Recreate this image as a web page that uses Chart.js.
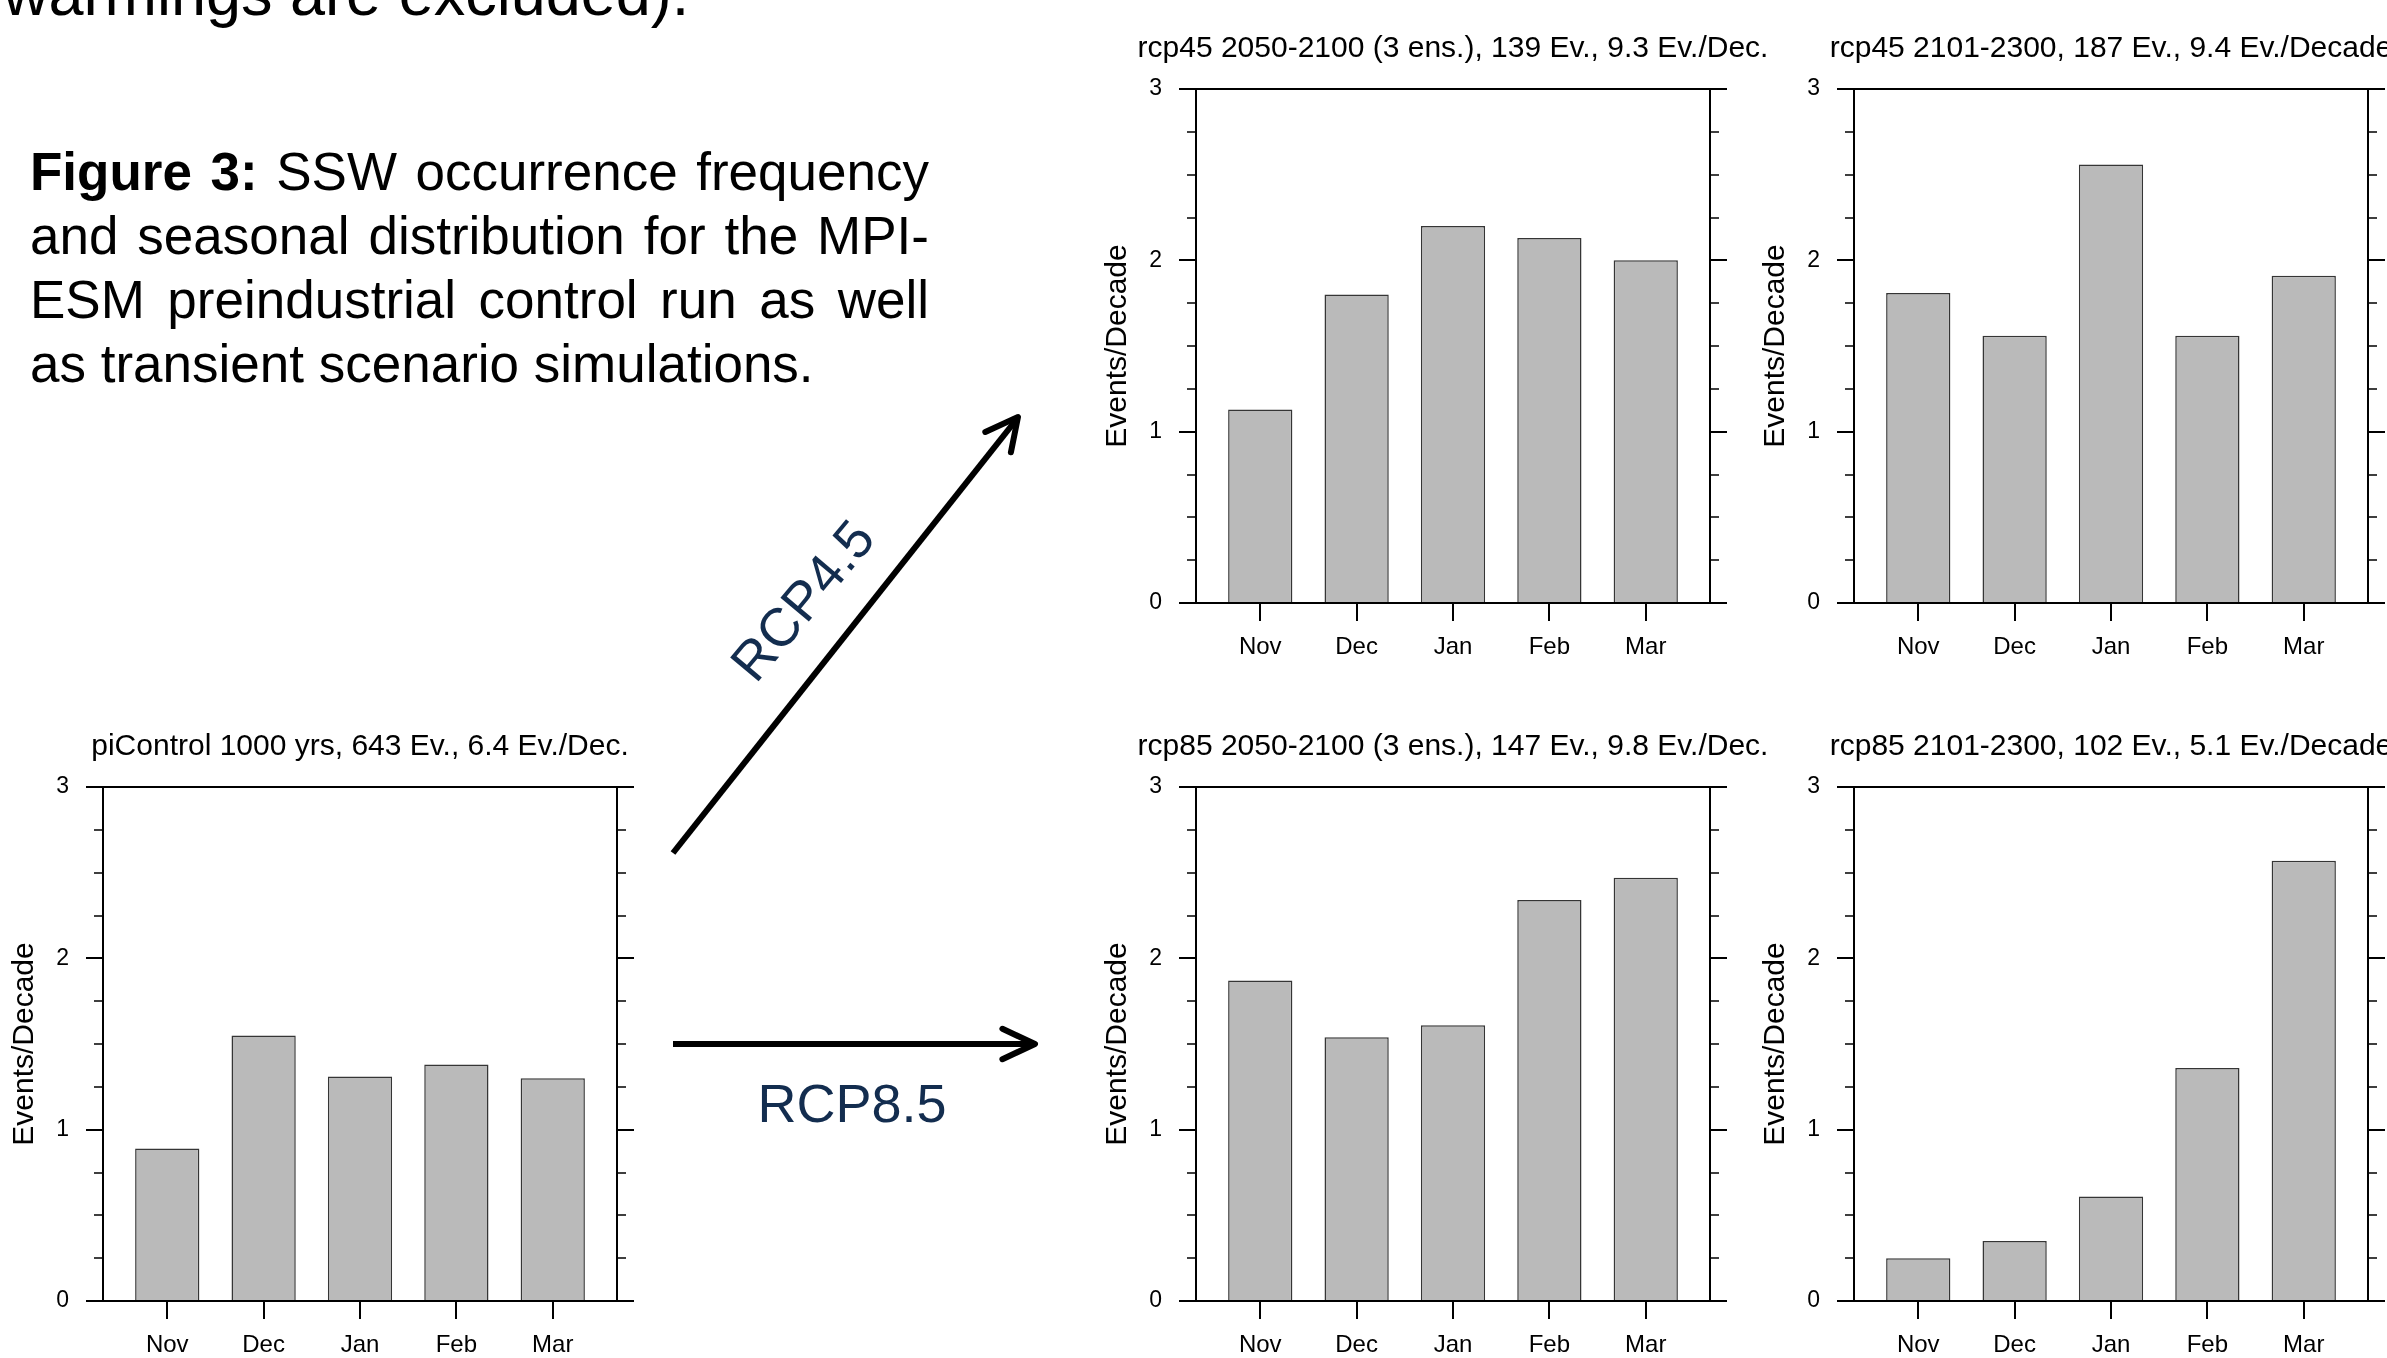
<!DOCTYPE html>
<html>
<head>
<meta charset="utf-8">
<title>SSW occurrence frequency</title>
<script src="https://cdn.jsdelivr.net/npm/chart.js@4.4.1/dist/chart.umd.min.js"></script>
<style>
  html, body { margin: 0; padding: 0; background: #fff; width: 2387px; height: 1358px; overflow: hidden; }
  body { position: relative; font-family: "Liberation Sans", Arial, Helvetica, sans-serif; color: #000; }
  canvas.panel { position: absolute; }
  #p0 { left: 7px;    top: 717px; }
  #p1 { left: 1100px; top: 19px; }
  #p2 { left: 1758px; top: 19px; }
  #p3 { left: 1100px; top: 717px; }
  #p4 { left: 1758px; top: 717px; }
  #caption { position: absolute; left: 30px; top: 140px; width: 899px; font-size: 53px; line-height: 64px; }
  #caption .j { text-align: justify; text-align-last: justify; }
  #overlay { position: absolute; left: 0; top: 0; pointer-events: none; }
</style>
</head>
<body>

<svg id="overlay" width="2387" height="1358" xmlns="http://www.w3.org/2000/svg"
     font-family="Liberation Sans, Arial, Helvetica, sans-serif">
  <text x="3" y="15" font-size="63" fill="#000">warmings are excluded).</text>

  <!-- RCP4.5 arrow -->
  <line x1="673" y1="853" x2="1016" y2="420" stroke="#000" stroke-width="6"/>
  <polyline points="985.3,432 1018,417 1010.9,452.3" fill="none" stroke="#000" stroke-width="6"
            stroke-linecap="round" stroke-linejoin="round"/>
  <text x="802" y="600" font-size="54" fill="#132d4f" text-anchor="middle" dominant-baseline="central"
        transform="rotate(-50 802 600)">RCP4.5</text>

  <!-- RCP8.5 arrow -->
  <line x1="673" y1="1044" x2="1032" y2="1044" stroke="#000" stroke-width="6"/>
  <polyline points="1002.4,1028.8 1035,1044 1002.4,1059.2" fill="none" stroke="#000" stroke-width="6"
            stroke-linecap="round" stroke-linejoin="round"/>
  <text x="852" y="1122" font-size="54" fill="#132d4f" text-anchor="middle">RCP8.5</text>
</svg>

<div id="caption">
  <div class="j"><b>Figure 3:</b> SSW occurrence frequency</div>
  <div class="j">and seasonal distribution for the MPI-</div>
  <div class="j">ESM preindustrial control run as well</div>
  <div>as transient scenario simulations.</div>
</div>

<canvas id="p0" class="panel" width="670" height="654"></canvas>
<canvas id="p1" class="panel" width="670" height="654"></canvas>
<canvas id="p2" class="panel" width="670" height="654"></canvas>
<canvas id="p3" class="panel" width="670" height="654"></canvas>
<canvas id="p4" class="panel" width="670" height="654"></canvas>

<script>
// months on the x axis, events per decade on the y axis
const months = ['Nov', 'Dec', 'Jan', 'Feb', 'Mar'];
const yTicks = [0, 1, 2, 3];

const piControl = [0.89, 1.55, 1.31, 1.38, 1.30];
const rcp45Mid  = [1.13, 1.80, 2.20, 2.13, 2.00];
const rcp45Late = [1.81, 1.56, 2.56, 1.56, 1.91];
const rcp85Mid  = [1.87, 1.54, 1.61, 2.34, 2.47];
const rcp85Late = [0.25, 0.35, 0.61, 1.36, 2.57];

const titles = [
    'piControl 1000 yrs, 643 Ev., 6.4 Ev./Dec.',
    'rcp45 2050-2100 (3 ens.), 139 Ev., 9.3 Ev./Dec.',
    'rcp45 2101-2300, 187 Ev., 9.4 Ev./Decade',
    'rcp85 2050-2100 (3 ens.), 147 Ev., 9.8 Ev./Dec.',
    'rcp85 2101-2300, 102 Ev., 5.1 Ev./Decade'
];

const FONT = '"Liberation Sans", Arial, Helvetica, sans-serif';
Chart.defaults.font.family = FONT;
Chart.defaults.color = '#000';

// NCL style box: frame, outward ticks on left/right/bottom, title above
const ncarFrame = {
    id: 'ncarFrame',
    afterDraw(chart, args, opts) {
        const { ctx, chartArea: a, scales: { x, y } } = chart;
        ctx.save();
        ctx.strokeStyle = '#000';

        // minor ticks every quarter
        ctx.lineWidth = 1.5;
        ctx.beginPath();
        for (let v = 0.25; v < 3; v += 0.25) {
            if (Number.isInteger(v)) continue;
            const py = Math.round(y.getPixelForValue(v));
            ctx.moveTo(a.left - 9, py); ctx.lineTo(a.left, py);
            ctx.moveTo(a.right, py); ctx.lineTo(a.right + 9, py);
        }
        ctx.stroke();

        // major ticks
        ctx.lineWidth = 2;
        ctx.beginPath();
        yTicks.forEach(v => {
            const py = Math.round(y.getPixelForValue(v));
            ctx.moveTo(a.left - 17, py); ctx.lineTo(a.left, py);
            ctx.moveTo(a.right, py); ctx.lineTo(a.right + 17, py);
        });
        x.ticks.forEach(t => {
            const px = Math.round(x.getPixelForValue(t.value));
            ctx.moveTo(px, a.bottom); ctx.lineTo(px, a.bottom + 18);
        });
        ctx.stroke();

        ctx.lineWidth = 2;
        ctx.strokeRect(a.left, a.top, a.width, a.height);

        ctx.fillStyle = '#000';
        ctx.font = '30px ' + FONT;
        ctx.textAlign = 'center';
        ctx.textBaseline = 'alphabetic';
        ctx.fillText(opts.text, (a.left + a.right) / 2, a.top - 32);
        ctx.restore();
    }
};

function makePanel(id, title, values) {
    const ctx = document.getElementById(id);
    return new Chart(ctx, {
        type: 'bar',
        data: {
            datasets: [{
                label: title,
                data: months.map((m, i) => ({ x: i + 1, y: values[i] })),
                backgroundColor: '#bababa',
                borderColor: '#353535',
                borderWidth: 1.5,
                categoryPercentage: 1,
                barPercentage: 2 / 3
            }]
        },
        options: {
            responsive: false,
            animation: false,
            events: [],
            devicePixelRatio: 1,
            layout: { padding: { top: 70, right: 60, bottom: 0, left: 0 } },
            scales: {
                x: {
                    type: 'linear',
                    min: 1 / 3,
                    max: 5 + 2 / 3,
                    offset: false,
                    grid: { display: false, drawTicks: false, offset: false },
                    border: { display: false },
                    afterBuildTicks: (scale) => {
                        scale.ticks = months.map((m, i) => ({ value: i + 1 }));
                    },
                    afterFit: (scale) => { scale.height = 70; },
                    ticks: {
                        padding: 30,
                        maxRotation: 0,
                        font: { size: 24 },
                        callback: (v) => months[v - 1]
                    }
                },
                y: {
                    type: 'linear',
                    min: 0,
                    max: 3,
                    grid: { display: false, drawTicks: false },
                    border: { display: false },
                    afterBuildTicks: (scale) => {
                        scale.ticks = yTicks.map(v => ({ value: v }));
                    },
                    afterFit: (scale) => { scale.width = 96; },
                    ticks: {
                        padding: 34,
                        font: { size: 23 },
                        callback: (v) => String(v)
                    },
                    title: {
                        display: true,
                        text: 'Events/Decade',
                        font: { size: 30 },
                        padding: { top: 0, bottom: 0 }
                    }
                }
            },
            plugins: {
                legend: { display: false },
                tooltip: { enabled: false },
                ncarFrame: { text: title }
            }
        },
        plugins: [ncarFrame]
    });
}

makePanel('p0', titles[0], piControl);
makePanel('p1', titles[1], rcp45Mid);
makePanel('p2', titles[2], rcp45Late);
makePanel('p3', titles[3], rcp85Mid);
makePanel('p4', titles[4], rcp85Late);
</script>
</body>
</html>
